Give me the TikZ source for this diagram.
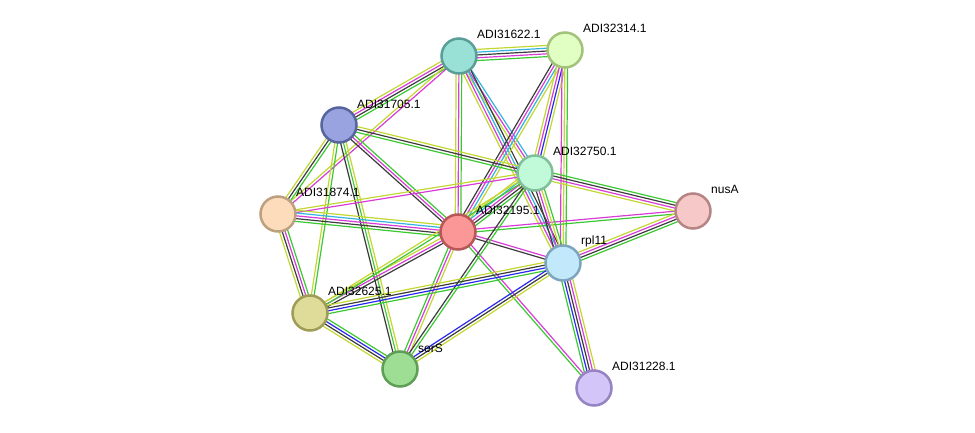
\documentclass[tikz,border=0pt]{standalone}
\usepackage{fontspec}
\setmainfont{Liberation Sans}
\usetikzlibrary{calc, backgrounds}

\definecolor{sgrn}{RGB}{60,200,50}
\definecolor{sblu}{RGB}{40,40,240}
\definecolor{sblk}{RGB}{60,60,60}
\definecolor{smag}{RGB}{215,60,215}
\definecolor{scyn}{RGB}{50,180,225}
\definecolor{syel}{RGB}{195,215,50}

% parallel coloured lines between two proteins
\newcommand{\protlink}[3]{%
  \def\nlines{0}%
  \foreach \c in {#3}{\xdef\nlines{\the\numexpr\nlines+1\relax}}%
  \foreach \c [count=\i] in {#3}{%
    \pgfmathsetmacro{\off}{(\i-(\nlines+1)/2)*2.8}%
    \draw[edge, \c] ($(#1)!\off pt!90:(#2)$) -- ($(#2)!\off pt!-90:(#1)$);
  }}

\tikzset{
  prot/.style={circle, minimum size=35pt, inner sep=0pt, line width=2.5pt},
  lbl/.style={anchor=west, inner sep=0pt, font=\fontsize{12}{14}\selectfont},
  edge/.style={line width=1.2pt}
}

\begin{document}
\begin{tikzpicture}[x=1pt, y=-1pt]
    \useasboundingbox (0,0) rectangle (975,433);

    % Proteinas
    \node[prot, fill={rgb,255:red,153;green,224;blue,214}, draw={rgb,255:red,90;green,158;blue,152}] (adi31622) at (459,56) {};
    \node[prot, fill={rgb,255:red,225;green,255;blue,195}, draw={rgb,255:red,163;green,194;blue,122}] (adi32314) at (565,50) {};
    \node[prot, fill={rgb,255:red,153;green,163;blue,224}, draw={rgb,255:red,86;green,101;blue,158}] (adi31705) at (339,125) {};
    \node[prot, fill={rgb,255:red,192;green,250;blue,216}, draw={rgb,255:red,128;green,191;blue,154}] (adi32750) at (535,173) {};
    \node[prot, fill={rgb,255:red,247;green,200;blue,200}, draw={rgb,255:red,181;green,133;blue,133}] (nusa) at (693,211) {};
    \node[prot, fill={rgb,255:red,253;green,220;blue,187}, draw={rgb,255:red,188;green,160;blue,128}] (adi31874) at (278,214) {};
    \node[prot, fill={rgb,255:red,252;green,151;blue,151}, draw={rgb,255:red,184;green,87;blue,87}] (adi32195) at (458,232) {};
    \node[prot, fill={rgb,255:red,194;green,232;blue,251}, draw={rgb,255:red,127;green,164;blue,189}] (rpl) at (563,263) {};
    \node[prot, fill={rgb,255:red,222;green,220;blue,152}, draw={rgb,255:red,160;green,156;blue,88}] (adi32625) at (310,313) {};
    \node[prot, fill={rgb,255:red,157;green,221;blue,148}, draw={rgb,255:red,94;green,158;blue,86}] (sers) at (400,369) {};
    \node[prot, fill={rgb,255:red,211;green,197;blue,247}, draw={rgb,255:red,150;green,131;blue,194}] (adi31228) at (594,388) {};

    % Etiquetas
    \node[lbl] (l31622) at ([shift={(18,-22)}]adi31622.center) {ADI31622.1};
    \node[lbl] (l32314) at ([shift={(18,-22)}]adi32314.center) {ADI32314.1};
    \node[lbl] (l31705) at ([shift={(18,-21)}]adi31705.center) {ADI31705.1};
    \node[lbl] (l32750) at ([shift={(18,-22)}]adi32750.center) {ADI32750.1};
    \node[lbl] (lnusa) at ([shift={(18,-22)}]nusa.center) {nusA};
    \node[lbl] (l31874) at ([shift={(18,-22)}]adi31874.center) {ADI31874.1};
    \node[lbl] (l32195) at ([shift={(18,-22)}]adi32195.center) {ADI32195.1};
    \node[lbl] (lrpl) at ([shift={(18,-22)}]rpl.center) {rpl11};
    \node[lbl] (l32625) at ([shift={(18,-22)}]adi32625.center) {ADI32625.1};
    \node[lbl] (lsers) at ([shift={(18,-21)}]sers.center) {serS};
    \node[lbl] (l31228) at ([shift={(18,-22)}]adi31228.center) {ADI31228.1};

    % Interacciones
    \begin{pgfonlayer}{background}
    \protlink{adi31622}{adi32314}{sgrn,smag,sblk,scyn,syel}
    \protlink{adi31622}{adi31705}{syel,smag,sblk,sgrn}
    \protlink{adi31622}{adi31874}{syel,smag}
    \protlink{adi31622}{adi32195}{syel,smag,sgrn}
    \protlink{adi31622}{adi32750}{syel,smag,scyn}
    \protlink{adi31622}{rpl}{syel,smag,scyn,sblk}
    \protlink{adi32314}{adi32195}{sblk,smag,scyn,syel}
    \protlink{adi32314}{adi32750}{syel,smag,sblu,syel}
    \protlink{adi32314}{rpl}{smag,syel,sgrn}
    \protlink{adi31705}{adi32750}{sgrn,sblk,syel}
    \protlink{adi31705}{adi32195}{sblk,smag,sgrn}
    \protlink{adi31705}{adi31874}{syel,sblk,sgrn}
    \protlink{adi31705}{adi32625}{syel,sgrn}
    \protlink{adi31705}{sers}{sblk,sgrn,syel}
    \protlink{adi31874}{adi32750}{smag,syel}
    \protlink{adi31874}{adi32195}{sgrn,sblk,smag,scyn,syel}
    \protlink{adi31874}{adi32625}{syel,sblk,smag,sgrn}
    \protlink{adi32195}{adi32750}{sgrn,sblk,smag,scyn,syel}
    \protlink{adi32195}{nusa}{sgrn,smag}
    \protlink{adi32195}{rpl}{sblk,smag}
    \protlink{adi32195}{adi32625}{syel,smag,sblk}
    \protlink{adi32195}{sers}{sgrn,smag,syel}
    \protlink{adi32195}{adi31228}{sgrn,smag}
    \protlink{adi32750}{nusa}{syel,smag,sblk,sgrn}
    \protlink{adi32750}{rpl}{sblk,smag,syel,sgrn}
    \protlink{adi32750}{sers}{sblk,sgrn}
    \protlink{adi32750}{adi32625}{syel,sgrn}
    \protlink{rpl}{nusa}{sgrn,sblk,smag,syel}
    \protlink{rpl}{adi32625}{syel,sblk,sblu,sgrn}
    \protlink{rpl}{sers}{sblu,sblk,syel}
    \protlink{rpl}{adi31228}{sgrn,sblu,sblk,smag,syel}
    \protlink{adi32625}{sers}{syel,sblk,sblu,sgrn}
    \end{pgfonlayer}
\end{tikzpicture}
\end{document}
